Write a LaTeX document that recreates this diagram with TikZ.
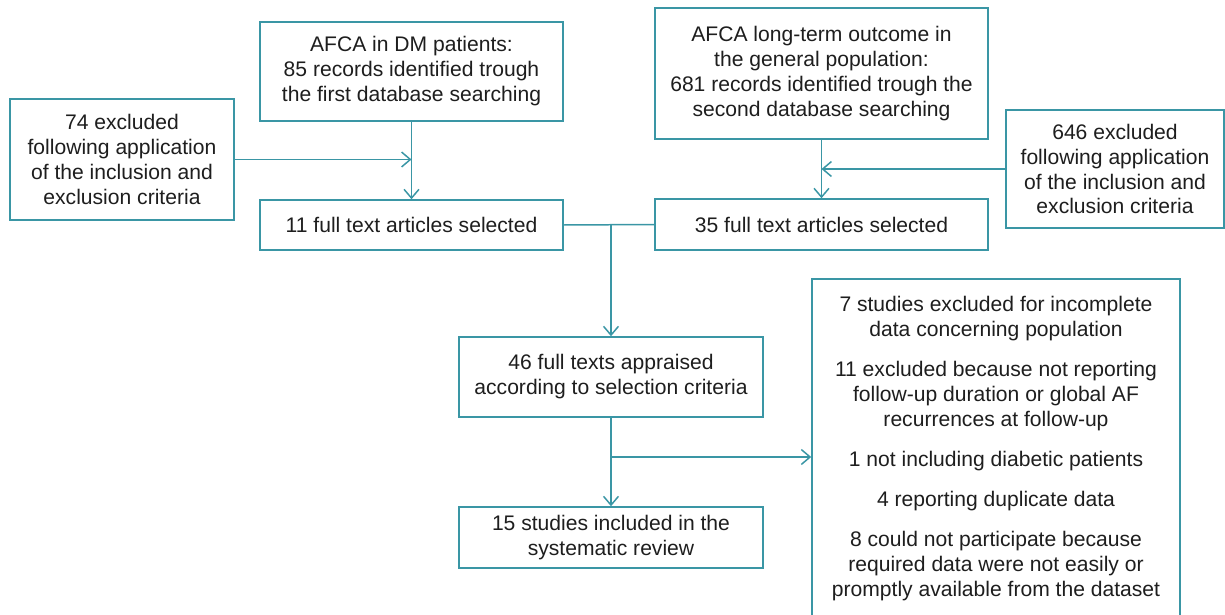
\documentclass[tikz,border=0pt]{standalone}
\usepackage{fontspec}
\setmainfont{Liberation Sans}
\usetikzlibrary{arrows.meta}
\definecolor{teal1}{RGB}{58,150,165}
\definecolor{txt}{RGB}{30,30,30}
\tikzset{
  box/.style={draw=teal1, line width=0.85pt, fill=white, inner sep=0pt, align=center,
    text=txt, font=\fontsize{12}{14.2}\selectfont},
  conn/.style={draw=teal1, line width=0.85pt},
  arr/.style={conn, -{Straight Barb[length=5pt,width=8.5pt,line width=0.85pt]}}
}
\begin{document}
\begin{tikzpicture}
\useasboundingbox (0,0) rectangle (24.5,-12.3);
\node[box, minimum width=6.06cm, minimum height=1.98cm] (A) at (8.23,-1.43)
  {AFCA in DM patients:\\85 records identified trough\\the first database searching};
\node[box, minimum width=6.66cm, minimum height=2.62cm] (B) at (16.43,-1.47)
  {AFCA long-term outcome in\\the general population:\\681 records identified trough the\\second database searching};
\node[box, minimum width=4.48cm, minimum height=2.42cm] (L) at (2.44,-3.19)
  {74 excluded\\following application\\of the inclusion and\\exclusion criteria};
\node[box, minimum width=4.36cm, minimum height=2.36cm] (R) at (22.30,-3.38)
  {646 excluded\\following application\\of the inclusion and\\exclusion criteria};
\node[box, minimum width=6.06cm, minimum height=1.0cm] (E11) at (8.23,-4.5)
  {11 full text articles selected};
\node[box, minimum width=6.66cm, minimum height=1.02cm] (E35) at (16.43,-4.49)
  {35 full text articles selected};
\node[box, minimum width=6.08cm, minimum height=1.6cm] (F46) at (12.22,-7.54)
  {46 full texts appraised\\according to selection criteria};
\node[box, minimum width=6.08cm, minimum height=1.22cm] (S15) at (12.22,-10.75)
  {15 studies included in the\\systematic review};
\node[box, minimum width=7.36cm, minimum height=6.78cm] (X) at (19.92,-8.97)
  {7 studies excluded for incomplete\\data concerning population\\[8.5pt]
   11 excluded because not reporting\\follow-up duration or global AF\\recurrences at follow-up\\[8.5pt]
   1 not including diabetic patients\\[8.5pt]
   4 reporting duplicate data\\[8.5pt]
   8 could not participate because\\required data were not easily or\\promptly available from the dataset};
% connectors
\draw[arr] (A.south) -- (E11.north);
\draw[arr] (L.east) -- (A.south |- L.east);
\draw[arr] (B.south) -- (E35.north);
\draw[arr] (R.west) -- (B.south |- R.west);
\coordinate (j) at (F46.north |- E11.east);
\draw[conn] (E11.east) -- (E35.west);
\draw[arr] (j) -- (F46.north);
\draw[arr] (F46.south) -- (S15.north);
\coordinate (br) at (12.22,-9.14);
\draw[arr] (br) -- (br -| X.west);
\end{tikzpicture}
\end{document}
